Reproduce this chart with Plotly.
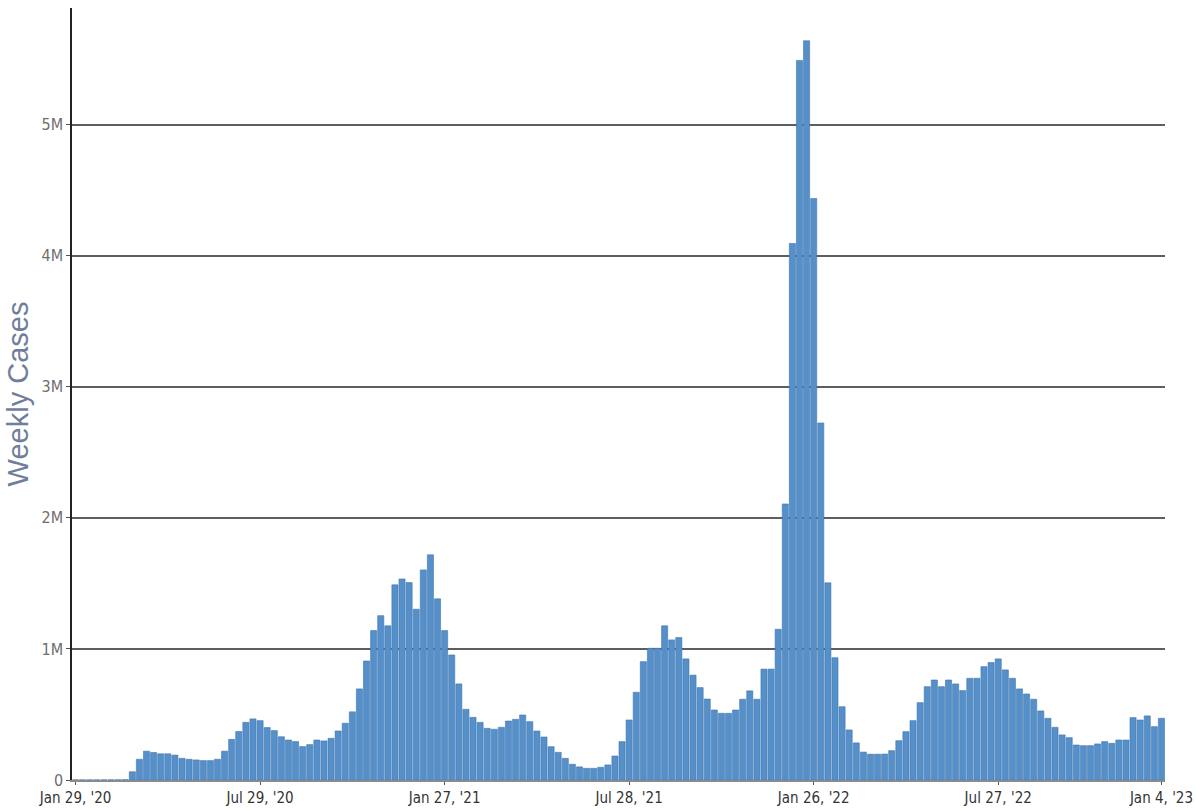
import pandas as pd
import plotly.graph_objects as go

# weekly case counts, one bar per week starting Jan 29 2020
weekly_cases = [
    900, 900, 900, 1000, 1000, 1200, 1500, 2000,
    63000, 158000, 220000, 210000, 200000, 200000, 190000, 165000,
    158000, 153000, 148000, 148000, 158000, 220000, 310000, 370000,
    440000, 466000, 453000, 400000, 377000, 330000, 305000, 293000,
    255000, 270000, 305000, 298000, 318000, 374000, 433000, 520000,
    695000, 908000, 1140000, 1254000, 1176000, 1489000, 1534000, 1506000,
    1303000, 1603000, 1718000, 1382000, 1140000, 954000, 733000, 539000,
    478000, 440000, 394000, 387000, 402000, 450000, 463000, 496000,
    445000, 374000, 328000, 254000, 211000, 165000, 120000, 100000,
    89000, 89000, 97000, 115000, 183000, 293000, 458000, 669000,
    903000, 1005000, 1005000, 1176000, 1069000, 1087000, 924000, 800000,
    705000, 618000, 534000, 509000, 509000, 534000, 616000, 680000,
    616000, 846000, 846000, 1150000, 2106000, 4094000, 5490000, 5640000,
    4437000, 2724000, 1504000, 933000, 559000, 382000, 283000, 213000,
    197000, 197000, 198000, 224000, 300000, 369000, 453000, 590000,
    712000, 763000, 712000, 763000, 733000, 682000, 776000, 776000,
    865000, 896000, 924000, 840000, 776000, 695000, 656000, 616000,
    527000, 471000, 402000, 344000, 323000, 267000, 262000, 262000,
    275000, 293000, 280000, 305000, 305000, 476000, 458000, 489000,
    407000, 471000,
]
week_start = "2020-01-29"
weeks = pd.date_range(week_start, periods=len(weekly_cases), freq="7D")

# x tick every 26 weeks, plus the last week
tick_dates = list(weeks[::26]) + [weeks[-1]]

narrow = "Liberation Sans Narrow, Arial Narrow, DejaVu Sans Condensed, Liberation Sans, sans-serif"

fig = go.Figure()
fig.add_trace(go.Bar(
    x=weeks,
    y=weekly_cases,
    marker=dict(color="#5690ca", line=dict(color="#3f75ad", width=0.6)),
    name="Weekly Cases",
))

half = pd.Timedelta(days=3.5)
fig.update_layout(
    width=1196, height=810,
    margin=dict(l=72, r=31, t=8, b=30),
    plot_bgcolor="white", paper_bgcolor="white",
    bargap=0.14,
    showlegend=False,
    font=dict(family=narrow, size=15, color="#444"),
)
fig.update_xaxes(
    type="date",
    range=[weeks[0] - half, weeks[-1] + half],
    tickvals=tick_dates,
    tickformat="%b %-d, '%y",
    ticks="outside", ticklen=3, tickcolor="#555",
    tickfont=dict(family=narrow, color="#333", size=15),
    ticklabeloverflow="allow",
    showgrid=False,
    showline=True, linecolor="#8a8a8a", linewidth=1.5,
    layer="below traces",
    automargin=False,
)
fig.update_yaxes(
    range=[0, 5.89e6],
    dtick=1e6,
    showgrid=True, gridcolor="#5e5e5e", gridwidth=1.5,
    zeroline=False,
    showline=True, linecolor="#222", linewidth=1.5,
    ticks="outside", ticklen=4, tickcolor="#555",
    tickfont=dict(family=narrow, color="#6e6e6e", size=16),
    title=dict(text="Weekly Cases",
               font=dict(family="Liberation Sans, Arial, sans-serif", color="#6f7e9c", size=29),
               standoff=4),
    automargin=False,
)

# page body has an 8px default margin; drop it so the figure fills the window
fig.write_html(
    "out.html",
    config={"displayModeBar": False},
    post_script="document.body.style.margin='0px';",
)
